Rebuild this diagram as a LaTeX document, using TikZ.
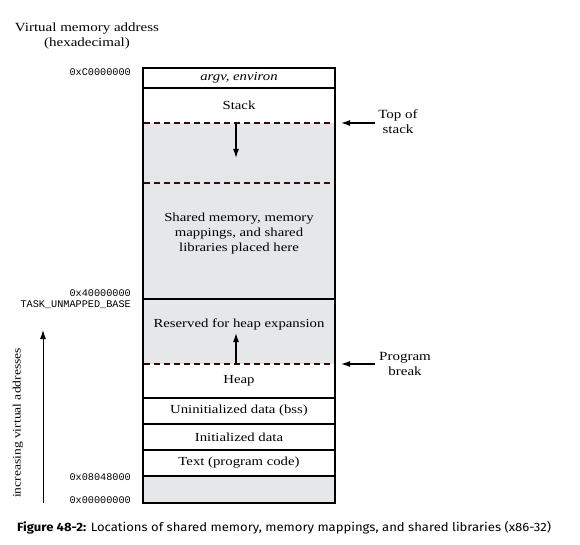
\documentclass[tikz,border=0pt]{standalone}
\usepackage{fontspec}
\setmainfont{Liberation Serif}[FakeStretch=1.2]
\setmonofont{Liberation Mono}
\newfontfamily\capfont{Fira Sans}[FakeStretch=1.09]
\usetikzlibrary{arrows.meta}
\definecolor{fillgray}{HTML}{E6E7E8}
\definecolor{dashred}{HTML}{3A0A0A}
\tikzset{
  seg/.style={font=\fontsize{12.3}{15}\selectfont, align=center, inner sep=0pt},
  addr/.style={font=\ttfamily\fontsize{10.2}{11}\selectfont, anchor=east, inner sep=0pt},
  side/.style={font=\fontsize{12.5}{15}\selectfont, align=center, inner sep=0pt},
  solidline/.style={line width=1.3pt, black},
  dashline/.style={line width=1.3pt, dashred, dash pattern=on 6pt off 4pt},
  arr/.style={line width=1.2pt, -{Latex[length=9pt,width=6pt]}},
}
\begin{document}
\begin{tikzpicture}[x=1pt,y=-1pt]
\useasboundingbox (0,0) rectangle (580,545);
% fills
\fill[fillgray] (143,123) rectangle (335,364);
\fill[fillgray] (143,476) rectangle (335,503);
% separators
\foreach \yy in {88,299,398,424,450,476} \draw[solidline] (143,\yy) -- (335,\yy);
\foreach \yy in {123,183,364} \draw[dashline] (144,\yy) -- (334,\yy);
% outer box
\draw[line width=1.8pt] (143,68) rectangle (335,503);
% segment labels
\node[seg] (argv) at (239,78) {\itshape argv, environ};
\node[seg] (stack) at (239,105) {Stack};
\node[seg] (shared) at (239,234) {Shared memory, memory\\mappings, and shared\\libraries placed here};
\node[seg] (reserved) at (239,324) {Reserved for heap expansion};
\node[seg] (heap) at (239,381) {Heap};
\node[seg] (bss) at (239,411) {Uninitialized data (bss)};
\node[seg] (init) at (239,437) {Initialized data};
\node[seg] (text) at (239,463) {Text (program code)};
% inner arrows
\coordinate (stop) at (236,123);
\coordinate (sgrow) at (236,158);
\draw[arr] (stop) -- (sgrow);
\coordinate (hbrk) at (236,364);
\coordinate (hgrow) at (236,333);
\draw[arr] (hbrk) -- (hgrow);
% side labels
\node[side] (tos) at (398,122) {Top of\\stack};
\coordinate (tosstart) at (375,123);
\coordinate (tosend) at (341,123);
\draw[arr] (tosstart) -- (tosend);
\node[side] (pb) at (405,364) {Program\\break};
\coordinate (pbstart) at (375,364);
\coordinate (pbend) at (341,364);
\draw[arr] (pbstart) -- (pbend);
% header
\node[side] (hdr) at (87,36) {Virtual memory address\\(hexadecimal)};
% addresses
\node[addr] (a1) at (131,72) {0xC0000000};
\node[addr] (a2) at (131,293) {0x40000000};
\node[addr] (a3) at (131,305) {TASK\_UNMAPPED\_BASE};
\node[addr] (a4) at (131,477) {0x08048000};
\node[addr] (a5) at (131,500) {0x00000000};
% increasing arrow
\coordinate (incb) at (43,503);
\coordinate (inct) at (43,330);
\draw[line width=1pt, -{Latex[length=9pt,width=6pt]}] (incb) -- (inct);
\node[font=\fontsize{11.3}{12}\selectfont, rotate=90, inner sep=0pt] (inc) at (18,423) {increasing virtual addresses};
% caption
\node[anchor=west, inner sep=0pt, font=\capfont\fontsize{12}{14}\selectfont] (cap) at (17,528) {\textbf{Figure 48-2:} Locations of shared memory, memory mappings, and shared libraries (x86-32)};
\end{tikzpicture}
\end{document}
